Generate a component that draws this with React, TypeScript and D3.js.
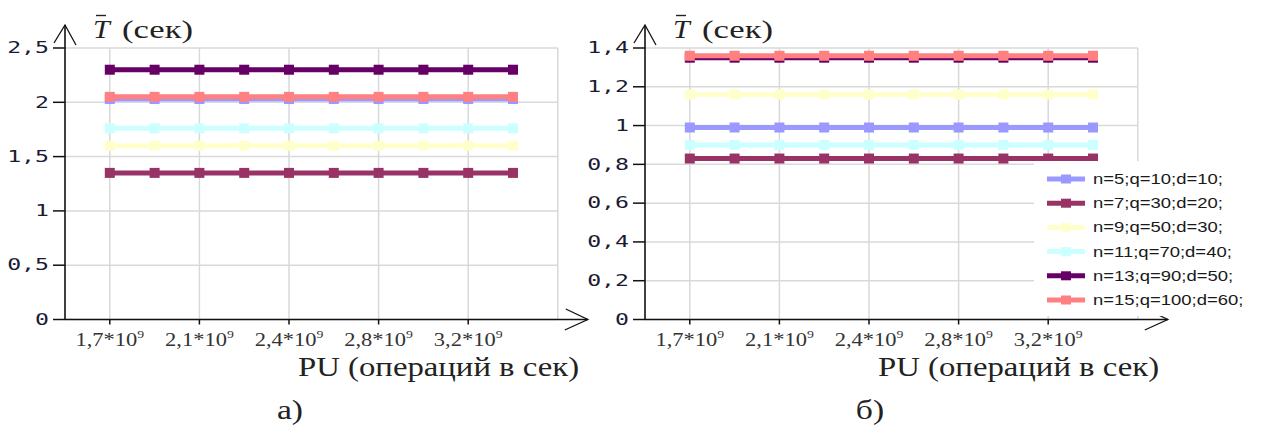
import React from 'react';
import * as d3 from 'd3';

// PU values (operations per second), only every second one is labelled
const puLabels = ['1,7', '1,9', '2,1', '2,2', '2,4', '2,6', '2,8', '3,0', '3,2', '3,4'];
const shownPu = ['1,7', '2,1', '2,4', '2,8', '3,2'];

const seriesNames = [
  'n=5;q=10;d=10;',
  'n=7;q=30;d=20;',
  'n=9;q=50;d=30;',
  'n=11;q=70;d=40;',
  'n=13;q=90;d=50;',
  'n=15;q=100;d=60;',
];
const seriesColors = ['#9999ff', '#993366', '#ffffcc', '#ccffff', '#660066', '#ff8080'];

// chart а)
const aN5 = [2.03, 2.03, 2.03, 2.03, 2.03, 2.03, 2.03, 2.03, 2.03, 2.03];
const aN7 = [1.35, 1.35, 1.35, 1.35, 1.35, 1.35, 1.35, 1.35, 1.35, 1.35];
const aN9 = [1.6, 1.6, 1.6, 1.6, 1.6, 1.6, 1.6, 1.6, 1.6, 1.6];
const aN11 = [1.76, 1.76, 1.76, 1.76, 1.76, 1.76, 1.76, 1.76, 1.76, 1.76];
const aN13 = [2.3, 2.3, 2.3, 2.3, 2.3, 2.3, 2.3, 2.3, 2.3, 2.3];
const aN15 = [2.05, 2.05, 2.05, 2.05, 2.05, 2.05, 2.05, 2.05, 2.05, 2.05];
const aTicks = [0, 0.5, 1, 1.5, 2, 2.5];

// chart б)
const bN5 = [0.99, 0.99, 0.99, 0.99, 0.99, 0.99, 0.99, 0.99, 0.99, 0.99];
const bN7 = [0.83, 0.83, 0.83, 0.83, 0.83, 0.83, 0.83, 0.83, 0.83, 0.83];
const bN9 = [1.16, 1.16, 1.16, 1.16, 1.16, 1.16, 1.16, 1.16, 1.16, 1.16];
const bN11 = [0.9, 0.9, 0.9, 0.9, 0.9, 0.9, 0.9, 0.9, 0.9, 0.9];
const bN13 = [1.35, 1.35, 1.35, 1.35, 1.35, 1.35, 1.35, 1.35, 1.35, 1.35];
const bN15 = [1.36, 1.36, 1.36, 1.36, 1.36, 1.36, 1.36, 1.36, 1.36, 1.36];
const bTicks = [0, 0.2, 0.4, 0.6, 0.8, 1, 1.2, 1.4];

const top = 48;
const bottom = 319.5;
const plotW = 492.8;
const sx = 1.2; // the picture is a bit wider than high, so text is stretched

const fmt = (v: number) => String(v).replace('.', ',');

function Panel({ x0, series, ticks, caption, legend }: any) {
  const x1 = x0 + plotW;
  const x = d3.scalePoint<string>().domain(puLabels).range([x0, x1]).padding(1);
  const y = d3.scaleLinear().domain([0, ticks[ticks.length - 1]]).range([bottom, top]);
  const lineGen = d3
    .line<number>()
    .x((_, i) => x(puLabels[i]) as number)
    .y((d) => y(d));

  return (
    <g>
      {/* grid */}
      {ticks.map((t: number) => (
        <line key={'h' + t} x1={x0} x2={x1} y1={y(t)} y2={y(t)} stroke="#d9d9d9" strokeWidth={1.5} />
      ))}
      {shownPu.map((p) => (
        <line key={'v' + p} x1={x(p)} x2={x(p)} y1={top} y2={bottom} stroke="#d9d9d9" strokeWidth={1.5} />
      ))}
      <line x1={x1} x2={x1} y1={top} y2={bottom} stroke="#d9d9d9" strokeWidth={1.5} />

      {/* series */}
      {series.map((s: number[], k: number) => (
        <g key={k}>
          <path d={lineGen(s) || ''} fill="none" stroke={seriesColors[k]} strokeWidth={5} />
          {s.map((v, i) => (
            <rect
              key={i}
              x={(x(puLabels[i]) as number) - 5}
              y={y(v) - 5}
              width={10}
              height={10}
              fill={seriesColors[k]}
            />
          ))}
        </g>
      ))}

      {/* axes */}
      <line x1={x0} x2={x0} y1={bottom} y2={25} stroke="#111" strokeWidth={1.6} />
      <polyline points={`${x0 - 11},43 ${x0},25 ${x0 + 11},45`} fill="none" stroke="#111" strokeWidth={1.3} />
      <line x1={x0} x2={x1 + 30} y1={bottom} y2={bottom} stroke="#111" strokeWidth={1.6} />
      <polyline
        points={`${x1 + 8},309 ${x1 + 30},${bottom} ${x1 + 7},330`}
        fill="none"
        stroke="#111"
        strokeWidth={1.3}
      />
      {ticks.map((t: number) => (
        <g key={'yt' + t}>
          <line x1={x0 - 12} x2={x0} y1={y(t)} y2={y(t)} stroke="#111" strokeWidth={1.5} />
          <text
            transform={`translate(${x0 - 16},${y(t)}) scale(1.45,1)`}
            textAnchor="end"
            dominantBaseline="central"
            fontFamily="'DejaVu Sans Mono', monospace"
            fontSize={16}
            fill="#1a1a33"
          >
            {fmt(t)}
          </text>
        </g>
      ))}
      {shownPu.map((p) => (
        <g key={'xt' + p}>
          <line x1={x(p)} x2={x(p)} y1={bottom} y2={bottom + 5} stroke="#111" strokeWidth={1.5} />
          <text
            transform={`translate(${x(p)},346) scale(1.25,1)`}
            textAnchor="middle"
            fontFamily="'Liberation Serif', serif"
            fontSize={18}
            fill="#333"
          >
            {p}*10
            <tspan fontSize={11} dy={-8}>
              9
            </tspan>
          </text>
        </g>
      ))}

      {/* titles */}
      <text
        transform={`translate(${x0 + 28},38) scale(${sx},1)`}
        fontFamily="'Liberation Serif', serif"
        fontStyle="italic"
        fontSize={25}
        fill="#222"
      >
        T
      </text>
      <line x1={x0 + 31} x2={x0 + 41} y1={15.5} y2={15.5} stroke="#222" strokeWidth={1.4} />
      <text
        x={x0 + 57}
        y={38}
        textLength={71}
        lengthAdjust="spacingAndGlyphs"
        fontFamily="'Liberation Serif', serif"
        fontSize={25}
        fill="#222"
      >
        (сек)
      </text>
      <text
        transform={`translate(${x0 + 233},376) scale(1.17,1)`}
        fontFamily="'Liberation Serif', serif"
        fontSize={28}
        fill="#222"
      >
        PU (операций в сек)
      </text>
      <text
        transform={`translate(${x0 + 225},419) scale(${sx},1)`}
        textAnchor="middle"
        fontFamily="'Liberation Serif', serif"
        fontSize={28}
        fill="#222"
      >
        {caption}
      </text>

      {/* legend */}
      {legend && (
        <g>
          <rect x={x0 + 389} y={161} width={224} height={155} fill="#fff" />
          {seriesNames.map((n, k) => {
            const ly = 179 + k * 24.2;
            return (
              <g key={n}>
                <line x1={x0 + 402} x2={x0 + 440} y1={ly} y2={ly} stroke={seriesColors[k]} strokeWidth={5} />
                <rect x={x0 + 416} y={ly - 4.5} width={10} height={9} fill={seriesColors[k]} />
                <text
                  transform={`translate(${x0 + 448},${ly}) scale(${sx},1)`}
                  dominantBaseline="central"
                  fontFamily="'Liberation Sans', Arial, sans-serif"
                  fontSize={15.4}
                  fill="#1a1a1a"
                >
                  {n}
                </text>
              </g>
            );
          })}
        </g>
      )}
    </g>
  );
}

export default function App() {
  return (
    <svg
      width={1263}
      height={425}
      style={{ position: 'absolute', left: 0, top: 0, background: '#fff' }}
    >
      <Panel x0={65} series={[aN5, aN7, aN9, aN11, aN13, aN15]} ticks={aTicks} caption="а)" legend={false} />
      <Panel x0={645} series={[bN5, bN7, bN9, bN11, bN13, bN15]} ticks={bTicks} caption="б)" legend={true} />
    </svg>
  );
}
